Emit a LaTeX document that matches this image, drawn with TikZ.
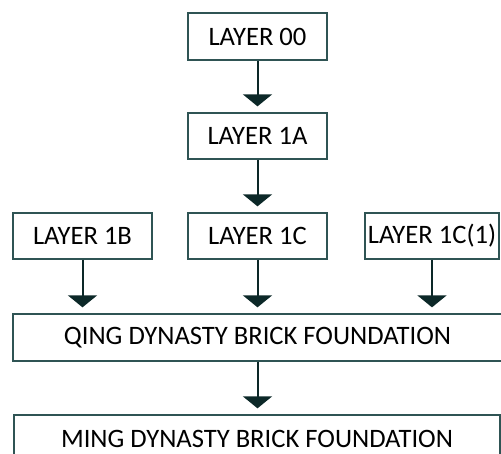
\documentclass[tikz,border=0pt]{standalone}
\usepackage{fontspec}
\setmainfont{Carlito}
\usetikzlibrary{arrows.meta}
\definecolor{boxline}{HTML}{2F5454}
\definecolor{arrowcol}{HTML}{0C2828}
\begin{document}
\begin{tikzpicture}[x=1pt,y=-1pt,
  box/.style={draw=boxline,line width=1.3pt,fill=white,rectangle,inner sep=0pt,
    minimum width=139pt,minimum height=46pt,font=\fontsize{26.6pt}{30pt}\selectfont,text=black},
  flow/.style={draw=arrowcol,line width=2pt,-{Triangle[width=29pt,length=12pt]},shorten >=6pt}]
\useasboundingbox (0,0) rectangle (501,454);
\node[box,minimum height=47pt] (L00) at (257.5,36.5) {LAYER 00};
\node[box] (L1A) at (257.5,136) {LAYER 1A};
\node[box] (L1B) at (82.5,236) {LAYER 1B};
\node[box] (L1C) at (257.5,236) {LAYER 1C};
\node[box,minimum width=134pt] (L1C1) at (432,236) {LAYER 1C(1)};
\node[box,minimum width=489pt,minimum height=47pt] (QING) at (257.5,337.5) {QING DYNASTY BRICK FOUNDATION};
\node[box,minimum width=486pt,minimum height=47pt] (MING) at (257,438.5) {MING DYNASTY BRICK FOUNDATION};
\draw[flow] (L00.south) -- (L1A.north);
\draw[flow] (L1A.south) -- (L1C.north);
\draw[flow] (L1B.south) -- (L1B.south |- QING.north);
\draw[flow] (L1C.south) -- (L1C.south |- QING.north);
\draw[flow] (L1C1.south) -- (L1C1.south |- QING.north);
\draw[flow] (QING.south) -- (QING.south |- MING.north);
\end{tikzpicture}
\end{document}
